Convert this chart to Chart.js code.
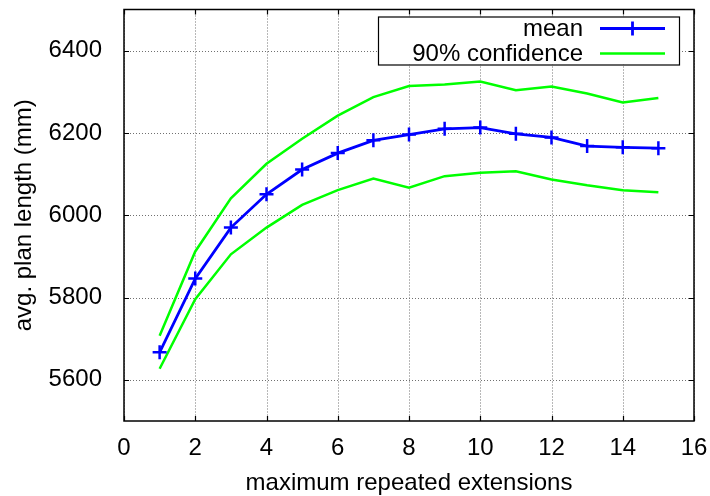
<!DOCTYPE html>
<html>
<head>
<meta charset="utf-8">
<script src="https://cdn.jsdelivr.net/npm/chart.js@4/dist/chart.umd.min.js"></script>
<style>
    html, body { margin: 0; padding: 0; background: #fff; }
    #wrap { width: 710px; height: 496px; }
</style>
</head>
<body>
<div id="wrap"><canvas id="planChart"></canvas></div>
<script>
const extensions = [1, 2, 3, 4, 5, 6, 7, 8, 9, 10, 11, 12, 13, 14, 15];
const meanLength = [5667, 5846, 5970, 6051, 6111, 6151, 6182, 6196, 6210, 6213, 6198, 6189, 6168, 6165, 6163];
const upperConf = [5707, 5912, 6041, 6125, 6186, 6242, 6287, 6314, 6318, 6325, 6304, 6313, 6296, 6274, 6285];
const lowerConf = [5627, 5796, 5905, 5970, 6025, 6061, 6089, 6067, 6095, 6103, 6107, 6087, 6073, 6061, 6056];
const xTicks = [0, 2, 4, 6, 8, 10, 12, 14, 16];
const yTicks = [5600, 5800, 6000, 6200, 6400];

const FONT = "'Liberation Sans', Arial, sans-serif";
const BLUE = '#0000ff';
const GREEN = '#00ff00';

function toPoints(values) {
    return extensions.map((x, i) => ({ x: x, y: values[i] }));
}

// dotted grid, drawn by hand so the dash pattern is exact
const gridPlugin = {
    id: 'dotGrid',
    beforeDatasetsDraw(chart) {
        const ctx = chart.ctx;
        const a = chart.chartArea;
        const xs = chart.scales.x;
        const ys = chart.scales.y;
        ctx.save();
        ctx.strokeStyle = '#707070';
        ctx.lineWidth = 1;
        ctx.setLineDash([1, 2]);
        ctx.beginPath();
        xTicks.forEach(v => {
            const px = Math.round(xs.getPixelForValue(v)) + 0.5;
            ctx.moveTo(px, a.top); ctx.lineTo(px, a.bottom);
        });
        yTicks.forEach(v => {
            const py = Math.round(ys.getPixelForValue(v)) + 0.5;
            ctx.moveTo(a.left, py); ctx.lineTo(a.right, py);
        });
        ctx.stroke();
        ctx.restore();
    }
};

// frame with inward ticks on all four sides, like gnuplot
const framePlugin = {
    id: 'frame',
    afterDraw(chart) {
        const ctx = chart.ctx;
        const a = chart.chartArea;
        const xs = chart.scales.x;
        const ys = chart.scales.y;
        ctx.save();
        ctx.strokeStyle = '#000';
        ctx.lineWidth = 1.5;
        ctx.strokeRect(a.left, a.top, a.right - a.left, a.bottom - a.top);
        ctx.lineWidth = 1.2;
        ctx.beginPath();
        xTicks.forEach(v => {
            const px = Math.round(xs.getPixelForValue(v)) + 0.5;
            ctx.moveTo(px, a.bottom); ctx.lineTo(px, a.bottom - 5);
            ctx.moveTo(px, a.top); ctx.lineTo(px, a.top + 5);
        });
        yTicks.forEach(v => {
            const py = Math.round(ys.getPixelForValue(v)) + 0.5;
            ctx.moveTo(a.left, py); ctx.lineTo(a.left + 5, py);
            ctx.moveTo(a.right, py); ctx.lineTo(a.right - 5, py);
        });
        ctx.stroke();
        ctx.restore();
    }
};

// gnuplot style key: text right aligned, sample to the right, boxed
const keyPlugin = {
    id: 'key',
    afterDraw(chart) {
        const ctx = chart.ctx;
        const a = chart.chartArea;
        const entries = chart.data.datasets.filter(d => !d.noKey);
        const right = a.right - 15;
        const left = right - 301;
        const top = a.top + 7;
        const rowH = 25;
        const height = 48;
        ctx.save();
        ctx.fillStyle = '#fff';
        ctx.fillRect(left, top, right - left, height);
        ctx.strokeStyle = '#000';
        ctx.lineWidth = 1.2;
        ctx.strokeRect(left + 0.5, top + 0.5, right - left, height);
        ctx.font = '24px ' + FONT;
        ctx.textAlign = 'right';
        ctx.textBaseline = 'middle';
        entries.forEach((d, i) => {
            const y = top + 12 + i * rowH;
            ctx.fillStyle = '#000';
            ctx.fillText(d.label, right - 96, y + 1);
            const x0 = right - 79, x1 = right - 14;
            ctx.strokeStyle = d.borderColor;
            ctx.lineWidth = d.borderWidth;
            ctx.beginPath();
            ctx.moveTo(x0, y); ctx.lineTo(x1, y);
            ctx.stroke();
            if (d.pointRadius > 0) {
                const cx = (x0 + x1) / 2;
                ctx.beginPath();
                ctx.moveTo(cx, y - d.pointRadius); ctx.lineTo(cx, y + d.pointRadius);
                ctx.stroke();
            }
        });
        ctx.restore();
    }
};

const ctx = document.getElementById('planChart').getContext('2d');
new Chart(ctx, {
    type: 'line',
    data: {
        datasets: [{
            label: 'mean',
            data: toPoints(meanLength),
            borderColor: BLUE,
            borderWidth: 2.8,
            pointStyle: 'cross',
            pointRadius: 7,
            pointBorderWidth: 2.5,
            pointBorderColor: BLUE,
            pointBackgroundColor: BLUE,
            tension: 0
        }, {
            label: '90% confidence',
            data: toPoints(upperConf),
            borderColor: GREEN,
            borderWidth: 2.5,
            pointRadius: 0,
            tension: 0
        }, {
            label: '90% confidence',
            noKey: true,
            data: toPoints(lowerConf),
            borderColor: GREEN,
            borderWidth: 2.5,
            pointRadius: 0,
            tension: 0
        }]
    },
    options: {
        responsive: true,
        maintainAspectRatio: false,
        animation: false,
        layout: { padding: { top: 8, right: 16, left: 0, bottom: 0 } },
        plugins: {
            legend: { display: false },
            tooltip: { enabled: false }
        },
        scales: {
            x: {
                type: 'linear',
                min: 0,
                max: 16,
                afterBuildTicks: s => { s.ticks = xTicks.map(v => ({ value: v })); },
                afterFit: s => { s.height = 75; s.paddingLeft = 0; s.paddingRight = 0; },
                grid: { display: false },
                border: { display: false },
                ticks: {
                    color: '#000', padding: 5, maxRotation: 0,
                    font: { family: FONT, size: 24 },
                    callback: v => String(v)
                },
                title: {
                    display: true,
                    text: 'maximum repeated extensions',
                    color: '#000',
                    padding: { top: 0, bottom: -2 },
                    font: { family: FONT, size: 24 }
                }
            },
            y: {
                type: 'linear',
                min: 5500,
                max: 6500,
                afterBuildTicks: s => { s.ticks = yTicks.map(v => ({ value: v })); },
                afterFit: s => { s.width = 124; s.paddingTop = 0; s.paddingBottom = 0; },
                grid: { display: false },
                border: { display: false },
                ticks: {
                    color: '#000', padding: 14,
                    font: { family: FONT, size: 24 },
                    callback: v => String(v)
                },
                title: {
                    display: true,
                    text: 'avg. plan length (mm)',
                    color: '#000',
                    padding: { top: 10, bottom: 0 },
                    font: { family: FONT, size: 24 }
                }
            }
        }
    },
    plugins: [gridPlugin, framePlugin, keyPlugin]
});
</script>
</body>
</html>
